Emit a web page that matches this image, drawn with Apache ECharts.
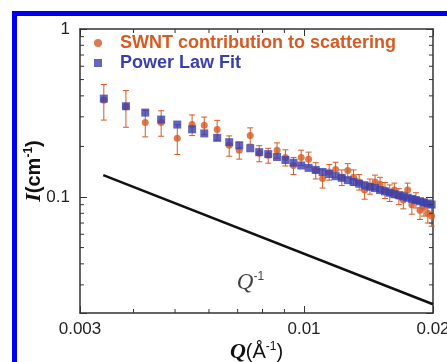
<!DOCTYPE html>
<html>
<head>
	<meta charset="utf-8">
	<title></title>
	<style type="text/css">
		body { margin: 0; background: #fff; }
		#main { position: absolute; left: 0; top: 0; width: 447px; height: 362px; }
		#frame {
			position: absolute; left: 12px; top: 11px; width: 440px; height: 360px;
			border-left: 5px solid #0000f0; border-top: 5px solid #0000f0;
			pointer-events: none;
		}
	</style>
	<script src='https://cdn.jsdelivr.net/npm/echarts@6/dist/echarts.min.js'></script>
</head>
<body>

	<div id="main"></div>
	<div id="frame"></div>

	<script type="text/javascript">
		// Q values (1/A)
		var q = [0.00341, 0.00384, 0.00426, 0.00464, 0.00506, 0.00548, 0.00585, 0.00627, 0.00669, 0.00706,
			0.00749, 0.00786, 0.00825, 0.00865, 0.00905, 0.00945, 0.00985, 0.01025, 0.01065, 0.01105,
			0.01145, 0.01185, 0.01225, 0.01265, 0.01305, 0.01345, 0.01385, 0.01425, 0.01465, 0.01505,
			0.01545, 0.01585, 0.01625, 0.01665, 0.01705, 0.01745, 0.01785, 0.01825, 0.01865, 0.01905,
			0.01945, 0.01985];
		// SWNT contribution to scattering, I (1/cm)
		var swnt = [0.377, 0.345, 0.278, 0.278, 0.224, 0.270, 0.267, 0.252, 0.203, 0.190,
			0.232, 0.182, 0.177, 0.190, 0.172, 0.154, 0.172, 0.168, 0.144, 0.129,
			0.141, 0.146, 0.131, 0.144, 0.131, 0.123, 0.110, 0.116, 0.123, 0.119,
			0.110, 0.106, 0.110, 0.101, 0.096, 0.110, 0.090, 0.096, 0.0835, 0.087,
			0.080, 0.077];
		// error bars (+/-)
		var swntErr = [0.090, 0.085, 0.050, 0.048, 0.045, 0.038, 0.032, 0.034, 0.028, 0.022,
			0.026, 0.020, 0.018, 0.020, 0.019, 0.018, 0.018, 0.017, 0.016, 0.016,
			0.015, 0.015, 0.014, 0.014, 0.014, 0.013, 0.013, 0.012, 0.012, 0.012,
			0.012, 0.012, 0.011, 0.011, 0.011, 0.011, 0.011, 0.010, 0.010, 0.010,
			0.010, 0.010];
		// power law fit
		var fit = [0.385, 0.347, 0.318, 0.289, 0.270, 0.253, 0.239, 0.225, 0.212, 0.203,
			0.195, 0.185, 0.180, 0.173, 0.166, 0.160, 0.154, 0.149, 0.145, 0.141,
			0.137, 0.133, 0.130, 0.126, 0.123, 0.120, 0.117, 0.115, 0.113, 0.110,
			0.108, 0.106, 0.104, 0.1025, 0.1008, 0.0991, 0.0975, 0.0959, 0.0944, 0.0929,
			0.0916, 0.0902];
		// Q^-1 guide line
		var guideQ = [0.0034, 0.02];
		var guideI = [0.135, 0.023];

		var xTickLabels = ['0.003', '0.01', '0.02'];
		var yTickLabels = ['1', '0.1'];
		var xMinorTicks = [0.004, 0.005, 0.006, 0.007, 0.008, 0.009];
		var yMinorTicks = [0.03, 0.04, 0.05, 0.06, 0.07, 0.08, 0.09, 0.2, 0.3, 0.4, 0.5, 0.6, 0.7, 0.8, 0.9];

		var X_MIN = 0.003, X_MAX = 0.02, Y_MIN = 0.0204, Y_MAX = 1;
		var orange = '#d65a22', blue = '#3a3fae', axisColor = '#333';

		function pick(list) {
			return function (v) {
				var s = String(+(+v).toPrecision(3));
				return list.indexOf(s) >= 0 ? s : '';
			};
		}

		function zip(a, b) {
			var out = [];
			for (var i = 0; i < a.length; i++) out.push([a[i], b[i]]);
			return out;
		}

		var errData = [];
		for (var i = 0; i < q.length; i++) {
			errData.push([q[i], swnt[i] - swntErr[i], swnt[i] + swntErr[i]]);
		}

		function seg(x1, y1, x2, y2, color, w) {
			return { type: 'line', shape: { x1: x1, y1: y1, x2: x2, y2: y2 }, style: { stroke: color, lineWidth: w } };
		}

		var chart = echarts.init(document.getElementById('main'));
		var baseAxis = {
			type: 'log', logBase: 10,
			axisLine: { lineStyle: { color: axisColor, width: 1.5 } },
			axisTick: { inside: true, length: 7, lineStyle: { color: axisColor, width: 1 } },
			splitLine: { show: false },
			minorTick: { show: false }
		};
		var option = {
			animation: false,
			backgroundColor: '#fff',
			textStyle: { fontFamily: 'Liberation Sans, Arial, sans-serif' },
			grid: { left: 80, right: 14, top: 29, bottom: 49, outerBoundsMode: 'none' },
			legend: {
				left: 94, top: 34, orient: 'vertical', padding: 0, itemGap: 2,
				itemWidth: 8, itemHeight: 8, selectedMode: false,
				textStyle: {
					fontSize: 18, fontWeight: 'bold', padding: [0, 0, 0, 13],
					fontFamily: 'Liberation Sans, Arial, sans-serif'
				},
				data: [
					{ name: 'SWNT contribution to scattering', icon: 'circle', itemStyle: { color: orange }, textStyle: { color: orange } },
					{ name: 'Power Law Fit', icon: 'rect', itemStyle: { color: blue }, textStyle: { color: blue } }
				]
			},
			xAxis: [
				Object.assign({}, baseAxis, {
					min: X_MIN, max: X_MAX, position: 'bottom',
					axisLabel: { formatter: pick(xTickLabels), fontSize: 17, color: '#222', margin: 8 },
					name: '{q|Q}{n|(Å}{s|-1}{n|)}', nameLocation: 'middle', nameGap: 28, nameMoveOverlap: false,
					nameTextStyle: {
						rich: {
							q: { fontFamily: 'Liberation Serif', fontStyle: 'italic', fontWeight: 'bold', fontSize: 22, color: '#111' },
							n: { fontSize: 20, color: '#111' },
							s: { fontSize: 12, color: '#111', verticalAlign: 'top' }
						}
					}
				}),
				Object.assign({}, baseAxis, {
					min: X_MIN, max: X_MAX, position: 'top', axisLabel: { show: false }
				})
			],
			yAxis: [
				Object.assign({}, baseAxis, {
					min: Y_MIN, max: Y_MAX, position: 'left',
					axisLabel: { formatter: pick(yTickLabels), fontSize: 17, color: '#222', margin: 10 },
					name: '{i|I}{n|(cm}{s|-1}{n|)}', nameLocation: 'middle', nameGap: 35, nameRotate: 90,
					nameMoveOverlap: false,
					nameTextStyle: {
						rich: {
							i: { fontFamily: 'Liberation Serif', fontStyle: 'italic', fontWeight: 'bold', fontSize: 22, color: '#111' },
							n: { fontSize: 20, fontWeight: 'bold', color: '#111' },
							s: { fontSize: 12, fontWeight: 'bold', color: '#111', verticalAlign: 'top' }
						}
					}
				}),
				Object.assign({}, baseAxis, {
					min: Y_MIN, max: Y_MAX, position: 'right', axisLabel: { show: false }
				})
			],
			series: [
				{
					type: 'custom', name: 'err', z: 2, silent: true,
					encode: { x: 0, y: [1, 2] },
					data: errData,
					renderItem: function (params, api) {
						var top = api.coord([api.value(0), api.value(2)]);
						var bot = api.coord([api.value(0), api.value(1)]);
						var w = 3;
						return {
							type: 'group', children: [
								seg(top[0], top[1], bot[0], bot[1], orange, 1),
								seg(top[0] - w, top[1], top[0] + w, top[1], orange, 1),
								seg(bot[0] - w, bot[1], bot[0] + w, bot[1], orange, 1)
							]
						};
					}
				},
				{
					type: 'scatter', name: 'SWNT contribution to scattering', z: 3,
					symbol: 'circle', symbolSize: 7,
					itemStyle: { color: orange },
					data: zip(q, swnt)
				},
				{
					type: 'scatter', name: 'Power Law Fit', z: 4,
					symbol: 'rect', symbolSize: 8,
					itemStyle: { color: blue },
					data: zip(q, fit)
				},
				{
					type: 'line', name: 'guide', z: 5, showSymbol: false, silent: true,
					lineStyle: { color: '#111', width: 2.5 },
					data: zip(guideQ, guideI)
				},
				{
					type: 'scatter', name: 'guideLabel', z: 6, symbolSize: 0, silent: true,
					data: [[0.0075, 0.031]],
					label: {
						show: true, position: 'inside',
						formatter: '{q|Q}{s|-1}',
						rich: {
							q: { fontFamily: 'Liberation Serif', fontStyle: 'italic', fontSize: 23, color: '#111' },
							s: { fontFamily: 'Liberation Sans', fontSize: 12, color: '#111', verticalAlign: 'top' }
						}
					}
				},
				{
					type: 'custom', name: 'xMinor', z: 7, silent: true,
					encode: { x: 0, y: 1 },
					data: xMinorTicks.map(function (v) { return [v, Y_MIN]; }),
					renderItem: function (params, api) {
						var b = api.coord([api.value(0), Y_MIN]);
						var t = api.coord([api.value(0), Y_MAX]);
						return {
							type: 'group', children: [
								seg(b[0], b[1], b[0], b[1] - 4, axisColor, 1),
								seg(t[0], t[1], t[0], t[1] + 4, axisColor, 1)
							]
						};
					}
				},
				{
					type: 'custom', name: 'yMinor', z: 7, silent: true,
					encode: { x: 0, y: 1 },
					data: yMinorTicks.map(function (v) { return [X_MIN, v]; }),
					renderItem: function (params, api) {
						var l = api.coord([X_MIN, api.value(1)]);
						var r = api.coord([X_MAX, api.value(1)]);
						return {
							type: 'group', children: [
								seg(l[0], l[1], l[0] + 4, l[1], axisColor, 1),
								seg(r[0], r[1], r[0] - 4, r[1], axisColor, 1)
							]
						};
					}
				}
			]
		};

		chart.setOption(option);
	</script>
</body>
</html>
